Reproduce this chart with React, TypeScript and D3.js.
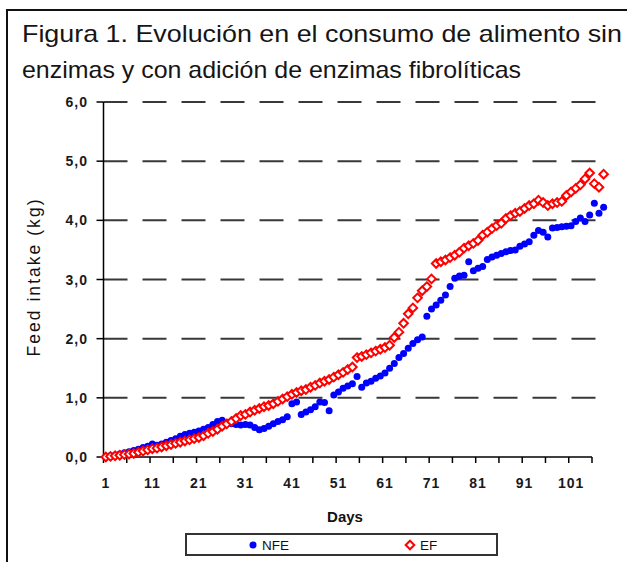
import React, { useEffect, useRef } from 'react';
import * as d3 from 'd3';

const W = 627;
const H = 562;

const titleLines = [
  'Figura 1. Evolución en el consumo de alimento sin',
  'enzimas y con adición de enzimas fibrolíticas',
];
const yTicks = [0, 1, 2, 3, 4, 5, 6];
const xLabels = [1, 11, 21, 31, 41, 51, 61, 71, 81, 91, 101];

// feed intake per day (kg)
const nfe = [
  0.00, 0.02, 0.03, 0.05, 0.07, 0.09, 0.11, 0.13, 0.16, 0.18,
  0.22, 0.20, 0.22, 0.25, 0.28, 0.31, 0.35, 0.38, 0.40, 0.42,
  0.44, 0.47, 0.50, 0.55, 0.60, 0.62, 0.58, 0.56, 0.55, 0.54,
  0.55, 0.54, 0.50, 0.46, 0.48, 0.52, 0.56, 0.60, 0.63, 0.68,
  0.90, 0.93, 0.72, 0.76, 0.80, 0.85, 0.93, 0.92, 0.78, 1.05,
  1.10, 1.16, 1.20, 1.24, 1.36, 1.18, 1.25, 1.28, 1.33, 1.37,
  1.42, 1.50, 1.58, 1.68, 1.75, 1.84, 1.92, 1.98, 2.03, 2.38,
  2.50, 2.57, 2.65, 2.74, 2.88, 3.02, 3.06, 3.07, 3.30, 3.15,
  3.19, 3.22, 3.34, 3.38, 3.41, 3.44, 3.47, 3.49, 3.50, 3.56,
  3.60, 3.64, 3.75, 3.83, 3.80, 3.72, 3.87, 3.88, 3.89, 3.90,
  3.91, 3.98, 4.04, 3.98, 4.09, 4.29, 4.12, 4.22,
];
const ef = [
  0.00, 0.01, 0.02, 0.03, 0.04, 0.05, 0.06, 0.08, 0.10, 0.12,
  0.14, 0.15, 0.17, 0.19, 0.21, 0.23, 0.25, 0.27, 0.29, 0.31,
  0.33, 0.36, 0.40, 0.43, 0.47, 0.52, 0.56, 0.60, 0.65, 0.70,
  0.72, 0.76, 0.79, 0.82, 0.85, 0.87, 0.90, 0.94, 0.98, 1.02,
  1.06, 1.09, 1.12, 1.14, 1.18, 1.21, 1.25, 1.28, 1.31, 1.35,
  1.39, 1.43, 1.48, 1.52, 1.68, 1.70, 1.73, 1.76, 1.79, 1.82,
  1.85, 1.89, 2.02, 2.11, 2.26, 2.42, 2.52, 2.69, 2.81, 2.88,
  3.01, 3.27, 3.30, 3.33, 3.37, 3.41, 3.46, 3.53, 3.57, 3.61,
  3.66, 3.75, 3.80, 3.86, 3.91, 3.95, 4.03, 4.08, 4.12, 4.15,
  4.20, 4.25, 4.28, 4.34, 4.30, 4.25, 4.28, 4.30, 4.32, 4.42,
  4.48, 4.54, 4.60, 4.70, 4.80, 4.62, 4.56, 4.78,
];

const diamond = 'M0,-4.3L4.3,0L0,4.3L-4.3,0Z';

export default function App() {
  const ref = useRef<SVGSVGElement>(null);

  useEffect(() => {
    const svg = d3.select(ref.current);
    svg.selectAll('*').remove();

    const x = d3.scaleLinear().domain([0.5, 105.5]).range([103.5, 592]);
    const y = d3.scaleLinear().domain([0, 6]).range([457, 102]);
    const x0 = x(0.5);

    // frame
    svg.append('path')
      .attr('d', `M7,${H}V10H${W}`)
      .attr('fill', 'none')
      .attr('stroke', '#111')
      .attr('stroke-width', 2);

    // title
    titleLines.forEach((t, i) => {
      svg.append('text')
        .attr('x', 22)
        .attr('y', 42 + i * 36)
        .attr('font-family', '"Liberation Sans Narrow", "Arial Narrow", "Liberation Sans", Arial, sans-serif')
        .attr('font-size', 24)
        .attr('fill', '#151515')
        .attr('textLength', i === 0 ? 600 : 499)
        .attr('lengthAdjust', 'spacingAndGlyphs')
        .text(t);
    });

    // gridlines
    svg.append('g')
      .selectAll('line')
      .data(yTicks.filter(v => v > 0))
      .join('line')
      .attr('x1', x0)
      .attr('x2', 596)
      .attr('y1', d => y(d))
      .attr('y2', d => y(d))
      .attr('stroke', '#383838')
      .attr('stroke-width', 2)
      .attr('stroke-dasharray', '24,15');

    // y axis
    const ya = svg.append('g').attr('stroke', '#000').attr('stroke-width', 1.5);
    ya.append('line').attr('x1', x0).attr('x2', x0).attr('y1', y(6)).attr('y2', y(0));
    ya.selectAll('line.t')
      .data(yTicks)
      .join('line')
      .attr('class', 't')
      .attr('x1', x0 - 7)
      .attr('x2', x0)
      .attr('y1', d => y(d))
      .attr('y2', d => y(d));

    svg.append('g')
      .selectAll('text')
      .data(yTicks)
      .join('text')
      .attr('x', 88)
      .attr('y', d => y(d))
      .attr('dy', '0.36em')
      .attr('text-anchor', 'end')
      .attr('font-family', 'Arial, "Liberation Sans", sans-serif')
      .attr('font-size', 14)
      .attr('font-weight', 'bold')
      .attr('letter-spacing', 1)
      .attr('fill', '#1a1a1a')
      .text(d => d3.format('.1f')(d).replace('.', ','));

    // x axis
    const xa = svg.append('g').attr('stroke', '#000').attr('stroke-width', 1.5);
    xa.append('line').attr('x1', x0).attr('x2', x(105.5)).attr('y1', y(0)).attr('y2', y(0));
    xa.selectAll('line.t')
      .data(d3.range(0.5, 106, 5))
      .join('line')
      .attr('class', 't')
      .attr('x1', d => x(d))
      .attr('x2', d => x(d))
      .attr('y1', y(0))
      .attr('y2', y(0) + 6);

    svg.append('g')
      .selectAll('text')
      .data(xLabels)
      .join('text')
      .attr('x', d => x(d))
      .attr('y', 488)
      .attr('text-anchor', 'middle')
      .attr('font-family', 'Arial, "Liberation Sans", sans-serif')
      .attr('font-size', 14)
      .attr('font-weight', 'bold')
      .attr('letter-spacing', 1)
      .attr('fill', '#1a1a1a')
      .text(d => d);

    // axis titles
    svg.append('text')
      .attr('x', 345)
      .attr('y', 522)
      .attr('text-anchor', 'middle')
      .attr('font-family', 'Arial, "Liberation Sans", sans-serif')
      .attr('font-size', 15)
      .attr('font-weight', 'bold')
      .attr('fill', '#111')
      .text('Days');

    svg.append('text')
      .attr('transform', 'translate(40,278) rotate(-90)')
      .attr('text-anchor', 'middle')
      .attr('font-family', 'Arial, "Liberation Sans", sans-serif')
      .attr('font-size', 17.5)
      .attr('fill', '#111')
      .attr('textLength', 157)
      .attr('lengthAdjust', 'spacing')
      .text('Feed intake (kg)');

    // series
    svg.append('g')
      .selectAll('circle')
      .data(nfe)
      .join('circle')
      .attr('cx', (d, i) => x(i + 1))
      .attr('cy', d => y(d))
      .attr('r', 3.5)
      .attr('fill', '#0000ff');

    svg.append('g')
      .selectAll('path')
      .data(ef)
      .join('path')
      .attr('d', diamond)
      .attr('transform', (d, i) => `translate(${x(i + 1)},${y(d)})`)
      .attr('fill', '#fff')
      .attr('stroke', '#ff0000')
      .attr('stroke-width', 2);

    // legend
    const lg = svg.append('g');
    lg.append('rect')
      .attr('x', 186).attr('y', 534).attr('width', 311).attr('height', 21)
      .attr('fill', '#fff').attr('stroke', '#333').attr('stroke-width', 2);
    lg.append('circle').attr('cx', 253).attr('cy', 545).attr('r', 3.5).attr('fill', '#0000ff');
    lg.append('path').attr('d', diamond).attr('transform', 'translate(410,545)')
      .attr('fill', '#fff').attr('stroke', '#ff0000').attr('stroke-width', 2);
    [['NFE', 262], ['EF', 420]].forEach(([t, px]) => {
      lg.append('text')
        .attr('x', px as number)
        .attr('y', 550)
        .attr('font-family', 'Arial, "Liberation Sans", sans-serif')
        .attr('font-size', 13.5)
        .attr('fill', '#111')
        .text(t as string);
    });
  }, []);

  return (
    <svg
      ref={ref}
      width={W}
      height={H}
      style={{ position: 'absolute', left: 0, top: 0, background: '#fff' }}
    />
  );
}
